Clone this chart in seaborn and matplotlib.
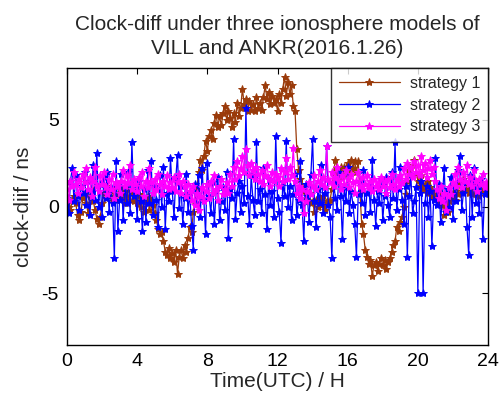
import numpy as np
import pandas as pd
import matplotlib
matplotlib.use("Agg")
import matplotlib.pyplot as plt
import seaborn as sns

# time axis (hours, UTC), 0.1 h sampling
time_h = np.round(np.arange(0, 24.0001, 0.1), 2)

strategy1 = [
    0.3, 0.0, -0.2, 0.4, 0.6, 0.2, -0.5, -0.8, -0.3, 0.5,
    0.8, 0.2, -0.4, 0.6, 1.0, 0.3, -0.2, -0.7, -1.0, -0.6,
    0.2, 0.8, 0.5, 1.2, 0.6, 0.9, 0.3, 1.0, 0.4, 0.7,
    1.1, 0.5, 0.8, 0.2, 0.6, 1.0, 0.4, 0.9, 0.3, 0.6,
    0.2, 0.7, 0.0, 0.5, -0.3, 0.3, 0.6, -0.2, 0.4, 0.1,
    -0.4, -0.8, -1.3, -1.6, -1.5, -2.0, -2.6, -2.8, -2.4, -3.0,
    -2.7, -3.2, -2.5, -3.9, -2.9, -2.5, -3.0, -2.2, -2.6, -1.8,
    -1.2, -1.5, -0.3, 0.2, 1.0, 2.0, 2.7, 2.1, 2.9, 3.8,
    3.2, 4.1, 4.4, 3.9, 4.8, 5.3, 4.6, 5.2, 4.7, 5.4,
    5.8, 5.0, 5.5, 5.1, 4.6, 5.4, 4.9, 6.0, 5.2, 5.7,
    6.8, 5.9, 6.2, 5.5, 6.1, 5.6, 5.9, 5.5, 6.3, 5.7,
    6.0, 5.6, 6.3, 7.0, 6.2, 6.6, 5.9, 6.4, 6.0, 6.2,
    5.5, 6.5, 6.0, 6.8, 7.5, 6.4, 7.2, 6.5, 7.0, 5.8,
    5.5, 3.3, 2.1, 1.6, 1.2, 0.9, 0.5, 0.3, 0.8, 0.2,
    0.3, -0.3, 0.4, 0.0, 0.5, 0.1, 0.6, -0.2, 0.3, 0.2,
    0.4, 1.0, 2.0, 2.7, 2.2, 1.8, 2.3, 1.7, 2.3, 1.9,
    2.5, 2.0, 2.7, 2.2, 2.6, 2.0, 2.6, 0.8, -1.0, -1.6,
    -2.5, -2.9, -3.3, -3.1, -4.0, -3.4, -3.2, -3.7, -3.3, -3.0,
    -3.4, -3.1, -3.6, -3.2, -3.0, -2.6, -2.2, -2.0, -1.2, -1.4,
    -0.9, -0.6, 0.0, 0.7, 1.5, 2.1, 1.8, 2.4, 2.7, 1.9,
    1.5, 1.2, 1.8, 1.0, 1.3, 0.8, 1.5, 1.1, 0.6, 0.9,
    0.5, 1.0, 0.3, 0.8, 0.1, -0.5, 0.2, -0.3, 0.3, 0.5,
    0.8, 0.4, 1.2, 0.7, 1.4, 0.9, 1.6, 1.0, 1.3, 0.8,
    1.2, 0.7, 1.5, 1.0, 1.4, 0.6, 1.3, 0.9, 1.2, 0.8,
    1.0,
]

strategy2 = [
    0.5, -0.4, 1.5, 2.2, 0.3, 1.8, 0.6, -0.2, 1.2, 0.8,
    2.0, 0.1, 1.5, -0.5, 0.9, 2.4, 0.4, 3.1, 0.0, 1.3,
    -0.6, 1.7, 0.5, 2.0, -0.3, 1.1, 0.2, -3.0, 2.6, -1.4,
    0.4, 1.9, -0.8, 1.2, 0.2, 2.0, -0.4, 3.7, 0.6, 1.0,
    -0.7, 1.5, 0.3, -1.4, 1.0, -0.9, 2.1, 0.2, 2.6, -0.5,
    1.2, 0.4, -1.2, 1.8, 0.0, 2.3, -1.3, 0.8, 0.3, 2.8,
    0.9, -0.6, 1.6, 3.0, -0.1, 1.2, -1.0, 0.5, 1.9, -0.3,
    0.8, -1.1, -2.5, 1.3, 0.2, 1.8, -0.6, 2.2, 0.4, -1.6,
    2.5, 0.6, -0.4, 1.4, -1.0, 0.9, 1.7, -0.8, 0.3, 1.1,
    -0.2, 2.0, -1.8, 1.0, 0.5, 3.9, -0.7, 0.8, 1.5, -0.3,
    1.2, 0.2, 5.7, 0.6, -1.0, 1.8, 0.4, -0.5, 3.7, 0.3,
    1.0, -0.4, 2.2, 0.7, -1.3, 1.6, 0.1, 0.9, -0.6, 4.1,
    0.5, -0.3, -2.1, 1.4, 0.6, 3.8, 0.0, 1.2, -0.8, 0.7,
    1.9, -0.5, 0.4, 2.6, 0.1, -2.0, 1.3, 0.6, -0.9, 1.8,
    3.9, 0.3, -1.2, 1.0, 0.2, 2.4, -0.4, 0.8, 3.5, 0.1,
    -0.6, -3.0, 1.4, 0.5, -0.2, 2.0, 0.6, -1.9, 1.1, 0.3,
    2.3, -0.4, 0.9, 0.1, -1.0, -2.9, 0.7, 1.5, 0.2, 2.1,
    -0.5, 0.8, 1.3, -0.3, 2.7, 0.4, -1.1, 0.9, 0.2, 1.6,
    -0.8, 0.6, 1.7, 0.1, -0.6, 2.0, 0.5, 3.7, -0.2, 1.0,
    2.3, 0.4, -1.0, 1.2, -2.9, 0.6, 1.8, -0.4, 0.3, 1.1,
    -5.0, 0.8, 1.5, -5.0, 0.2, 1.2, -0.6, 0.9, -2.3, 0.4,
    2.8, 0.1, 1.3, -0.9, 0.6, 2.2, -0.3, 1.0, 0.0, 1.7,
    -0.7, 1.2, 0.3, 2.1, 2.9, -0.2, 0.8, 1.5, -1.2, -2.8,
    1.8, -0.6, 2.2, 0.2, 1.1, -0.4, 1.6, -1.9, 0.7, 1.3,
    0.9,
]

strategy3 = [
    1.0, 0.4, 1.5, 1.2, 2.0, 1.3, 0.8, 1.6, 1.1, 1.9,
    1.4, 2.2, 1.0, 1.7, 0.6, 1.5, 2.3, 1.2, 0.9, 1.8,
    1.3, 2.0, 1.1, 0.7, 1.6, 1.0, 1.9, 0.5, 1.4, 1.2,
    0.8, 1.5, 2.1, 1.2, 1.8, 1.4, 2.4, 1.0, 1.6, 1.3,
    0.9, 1.7, 1.2, 2.0, 0.6, 1.5, 1.1, 2.2, 1.4, 0.8,
    1.6, 1.0, 1.9, 1.3, 0.7, 1.5, 1.2, 1.8, 1.0, 1.4,
    1.1, 1.7, 0.9, 1.4, 1.9, 0.8, 1.5, 1.2, 0.6, 1.3,
    0.9, 0.4, 1.2, 0.1, 0.8, -0.2, 0.6, 1.1, 0.3, 0.9,
    1.3, 0.5, 1.5, 0.8, 1.8, 1.0, 0.4, 1.2, 1.6, 0.7,
    1.0, 1.4, 0.8, 1.9, 1.2, 2.3, 1.6, 2.6, 1.8, 2.2,
    2.9, 2.0, 3.3, 2.4, 1.8, 2.5, 2.1, 1.6, 2.3, 1.9,
    1.5, 2.1, 1.3, 1.8, 2.4, 1.6, 1.2, 2.0, 1.5, 1.9,
    1.7, 1.2, 2.2, 1.5, 2.0, 2.8, 1.6, 2.3, 1.8, 3.4,
    1.5, 0.8, 1.2, 0.5, 1.0, -0.4, 0.3, 0.9, 1.4, 0.7,
    1.2, 1.8, 1.0, 1.5, 2.1, 1.3, 1.7, 1.1, 3.5, 1.6,
    1.4, 2.0, 1.2, 1.7, 2.3, 1.5, 1.0, 1.8, 1.3, 2.1,
    1.6, 1.1, 1.9, 1.4, 0.8, 1.5, 2.0, 1.2, 1.7, 1.0,
    1.3, 1.8, 1.1, 1.5, 0.9, 1.6, 1.2, 1.4, 1.0, 1.7,
    1.2, 1.5, 0.8, 1.6, 1.1, 1.9, 1.3, 1.0, 1.6, 1.2,
    1.8, 1.4, 2.2, 1.6, 2.5, 1.9, 2.3, 1.7, 2.6, 2.0,
    2.4, 1.8, 2.9, 2.1, 2.5, 1.7, 2.2, 2.7, 1.9, 2.3,
    1.5, 1.0, 0.5, 1.2, 0.3, 0.8, -0.2, 0.6, 1.1, 0.7,
    1.4, 1.9, 1.2, 2.3, 1.6, 1.1, 2.0, 1.5, 2.4, 1.3,
    1.7, 1.2, 2.1, 1.5, 0.9, 1.6, 1.3, 1.9, 1.1, 1.4,
    1.2,
]

series_names = ["strategy 1", "strategy 2", "strategy 3"]
series_colors = ["#9a3a0a", "#0000ff", "#ff00ff"]
x_ticks = [0, 4, 8, 12, 16, 20, 24]
y_ticks = [-5, 0, 5]

sns.set_style("white")
plt.rcParams["font.family"] = ["Liberation Sans", "DejaVu Sans"]
plt.rcParams["axes.unicode_minus"] = False

fig = plt.figure(figsize=(5.01, 4.05), dpi=100)
ax = fig.add_axes([0.1337, 0.1481, 0.8404, 0.684])

for name, vals, col in zip(series_names, [strategy1, strategy2, strategy3], series_colors):
    df = pd.DataFrame({"t": time_h, "v": vals})
    sns.lineplot(data=df, x="t", y="v", ax=ax, color=col, linewidth=0.9,
                 marker="*", markersize=6, markeredgewidth=0.7,
                 markeredgecolor=col, label=name, sort=False, estimator=None)

ax.set_xlim(0, 24)
ax.set_ylim(-8, 8)
ax.set_xticks(x_ticks)
ax.set_yticks(y_ticks)
ax.tick_params(direction="in", length=4, width=0.8, top=True, right=True,
               labelsize=14, colors="black", pad=6)
for s in ax.spines.values():
    s.set_visible(True)
    s.set_color("black")
    s.set_linewidth(1.0)

ax.set_xlabel("Time(UTC) / H", fontsize=15, labelpad=1)
ax.set_ylabel("clock-diif / ns", fontsize=15, labelpad=6)
ax.set_title("Clock-diff under three ionosphere models of\nVILL and ANKR(2016.1.26)",
             fontsize=15, pad=10, linespacing=1.35)

leg = ax.legend(loc="upper right", fontsize=11.5, frameon=True, fancybox=False,
                borderaxespad=0, handlelength=3.85, handletextpad=0.6,
                labelspacing=0.42, borderpad=0.5, markerscale=1.0)
leg.get_frame().set_edgecolor("black")
leg.get_frame().set_linewidth(1.0)

fig.savefig("out.png", dpi=100, facecolor="white")
